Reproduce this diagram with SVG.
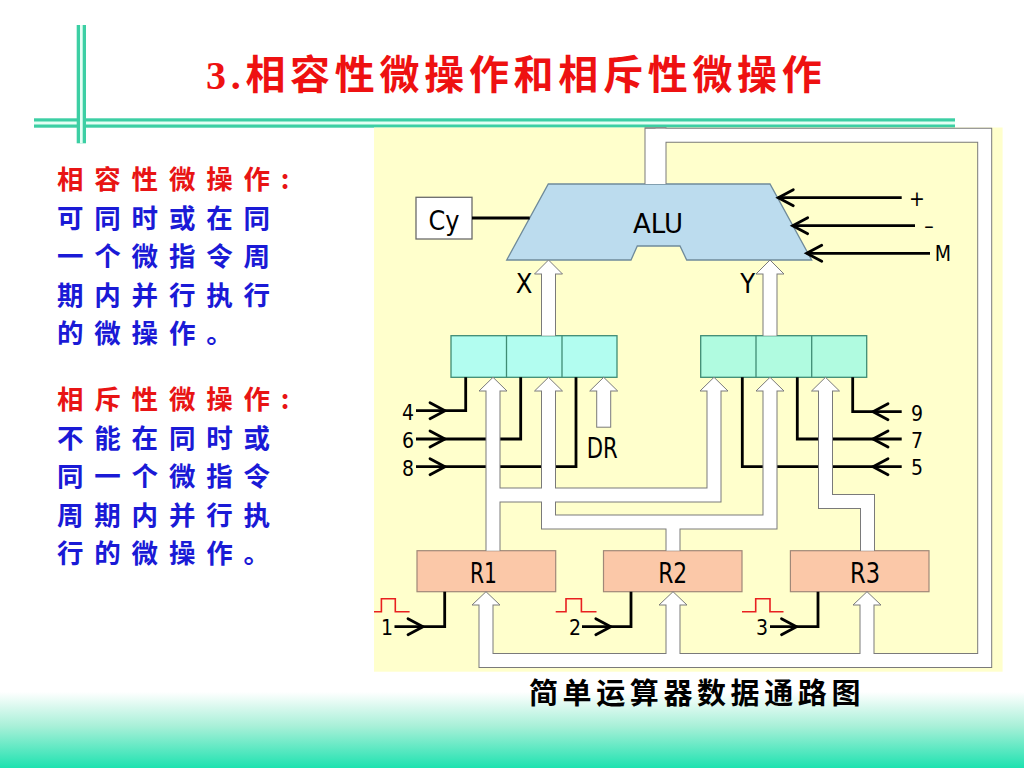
<svg xmlns="http://www.w3.org/2000/svg" width="1024" height="768" viewBox="0 0 1024 768">
<defs>
<linearGradient id="bottomGrad" x1="0" y1="0" x2="0" y2="1">
<stop offset="0" stop-color="#ffffff"/>
<stop offset="0.45" stop-color="#a8f0d8"/>
<stop offset="1" stop-color="#1ee2b0"/>
</linearGradient>
<style>
.title{font-family:"Liberation Serif","Noto Sans CJK SC",serif;font-weight:bold;font-size:40px;fill:#ee1111;letter-spacing:4.7px}
.cjk{font-family:"Noto Sans CJK SC",sans-serif;font-weight:bold;font-size:26.5px;letter-spacing:10.8px}
.red{fill:#e81414}
.blue{fill:#1a1ad6}
.cap{font-family:"Noto Sans CJK SC",sans-serif;font-weight:bold;font-size:29px;letter-spacing:4.6px;fill:#000}
.lbl{font-family:"DejaVu Sans Condensed","Liberation Sans Narrow","Liberation Sans",sans-serif;fill:#000;text-anchor:middle}
.ctl{fill:none;stroke:#000;stroke-width:2.8;stroke-linejoin:miter}
.ah{fill:none;stroke:#000;stroke-width:2.8;stroke-linejoin:miter;stroke-linecap:round}
.busO{fill:none;stroke:#7a7a7a;stroke-width:15;stroke-linejoin:miter}
.busI{fill:none;stroke:#ffffff;stroke-width:13;stroke-linejoin:miter}
.head{fill:#ffffff;stroke:#7a7a7a;stroke-width:1}
.pulse{fill:none;stroke:#e82020;stroke-width:1.6}
.regL{fill:#b2fdf0;stroke:#3f8c74;stroke-width:1.3}
.regR{fill:#b0fbe0;stroke:#3f8c74;stroke-width:1.3}
.rbox{fill:#fbc8a8;stroke:#a08878;stroke-width:1.2}
.deco{fill:#3ccfa4}
.decoc{fill:#e4fff4}
</style>
</defs>
<rect x="0" y="0" width="1024" height="768" fill="#ffffff"/>
<rect x="0" y="692" width="1024" height="76" fill="url(#bottomGrad)"/>

<g id="decoration">
<rect class="deco" x="34" y="118.3" width="921" height="9.4"/>
<rect class="decoc" x="34" y="121.5" width="921" height="3"/>
<rect class="deco" x="76.7" y="25" width="9.3" height="118.3"/>
<rect class="decoc" x="80" y="25" width="2.7" height="118.3"/>
</g>

<g id="title">
<text class="title" x="206" y="89">3.相容性微操作和相斥性微操作</text>
</g>

<g id="left-text">
<text class="cjk red" x="57" y="189">相容性微操作:</text>
<text class="cjk blue" x="57" y="227.5">可同时或在同</text>
<text class="cjk blue" x="57" y="266">一个微指令周</text>
<text class="cjk blue" x="57" y="304.5">期内并行执行</text>
<text class="cjk blue" x="57" y="343">的微操作。</text>
<text class="cjk red" x="57" y="409">相斥性微操作:</text>
<text class="cjk blue" x="57" y="447.5">不能在同时或</text>
<text class="cjk blue" x="57" y="486">同一个微指令</text>
<text class="cjk blue" x="57" y="524.5">周期内并行执</text>
<text class="cjk blue" x="57" y="563">行的微操作。</text>
</g>

<g id="diagram-bg">
<rect x="374" y="127.5" width="628.6" height="544.2" fill="#ffffcc"/>
</g>

<g id="node-cy">
<rect x="416" y="197.3" width="56" height="41.7" fill="#ffffff" stroke="#6a6a6a" stroke-width="1.3"/>
<text class="lbl" x="444" y="230" font-size="27" textLength="31" lengthAdjust="spacingAndGlyphs">Cy</text>
</g>

<g id="node-alu">
<polygon points="548.3,184 770,184 811.7,260 686.7,260 680,246 637.3,246 631,260 506.7,260" fill="#bcdcee" stroke="#6f8a9a" stroke-width="1.3"/>
<text class="lbl" x="658" y="233.3" font-size="26" textLength="50" lengthAdjust="spacingAndGlyphs">ALU</text>
</g>

<g id="node-reg-x">
<rect class="regL" x="451" y="335.7" width="166" height="41.6"/>
<line x1="506.5" y1="335.7" x2="506.5" y2="377.3" stroke="#3f8c74" stroke-width="1.3"/>
<line x1="562" y1="335.7" x2="562" y2="377.3" stroke="#3f8c74" stroke-width="1.3"/>
</g>

<g id="node-reg-y">
<rect class="regR" x="700.7" y="335.7" width="166" height="41.6"/>
<line x1="756" y1="335.7" x2="756" y2="377.3" stroke="#3f8c74" stroke-width="1.3"/>
<line x1="811.7" y1="335.7" x2="811.7" y2="377.3" stroke="#3f8c74" stroke-width="1.3"/>
</g>

<g id="node-r1">
<rect class="rbox" x="417" y="550.7" width="138.7" height="41"/>
<text class="lbl" x="483.5" y="583.3" font-size="28" textLength="27" lengthAdjust="spacingAndGlyphs">R1</text>
</g>
<g id="node-r2">
<rect class="rbox" x="603.5" y="550.7" width="138.5" height="41"/>
<text class="lbl" x="672.7" y="583.3" font-size="28" textLength="29" lengthAdjust="spacingAndGlyphs">R2</text>
</g>
<g id="node-r3">
<rect class="rbox" x="790.4" y="550.7" width="138.6" height="41"/>
<text class="lbl" x="865" y="583.3" font-size="28" textLength="30" lengthAdjust="spacingAndGlyphs">R3</text>
</g>

<g id="connectors">
<path class="ctl" d="M472,218 H529.7"/>
<path class="ctl" d="M778.3,197.7 H901.7"/>
<path class="ctl" d="M792.7,225.7 H915"/>
<path class="ctl" d="M806.7,253.3 H930"/>
<path class="ctl" d="M465.7,377.3 V410.7 H416"/>
<path class="ctl" d="M520.7,377.3 V439 H416"/>
<path class="ctl" d="M576,377.3 V466.7 H416"/>
<path class="ctl" d="M742.3,377.3 V466.7 H901.7"/>
<path class="ctl" d="M797.3,377.3 V439 H901.7"/>
<path class="ctl" d="M852.7,377.3 V411.7 H901.7"/>
<path class="ctl" d="M444.7,591.7 V626.7 H394.5"/>
<path class="ctl" d="M631,591.7 V626.7 H582"/>
<path class="ctl" d="M818,591.7 V626.7 H770"/>
<path class="ah" d="M793.3,189.7 L778.3,197.7 L793.3,205.7"/>
<path class="ah" d="M807.7,217.7 L792.7,225.7 L807.7,233.7"/>
<path class="ah" d="M821.7,245.3 L806.7,253.3 L821.7,261.3"/>
<path class="ah" d="M430,402.7 L445,410.7 L430,418.7"/>
<path class="ah" d="M430,431 L445,439 L430,447"/>
<path class="ah" d="M430,458.7 L445,466.7 L430,474.7"/>
<path class="ah" d="M888,403.7 L873,411.7 L888,419.7"/>
<path class="ah" d="M888,431 L873,439 L888,447"/>
<path class="ah" d="M888,458.7 L873,466.7 L888,474.7"/>
<path class="ah" d="M408,618.7 L423,626.7 L408,634.7"/>
<path class="ah" d="M595.8,618.7 L610.8,626.7 L595.8,634.7"/>
<path class="ah" d="M781.5,618.7 L796.5,626.7 L781.5,634.7"/>
<path class="pulse" d="M374,611.7 H381.4 V598.7 H395.3 V611.7 H409.6"/>
<path class="pulse" d="M555.7,611.7 H566 V598.7 H581.4 V611.7 H596.5"/>
<path class="pulse" d="M742,611.7 H755.7 V598.7 H770 V611.7 H783.5"/>

<g>
<path class="busO" d="M548.5,335.7 V274"/>
<path class="busO" d="M770,335.7 V274"/>
<path class="busO" d="M493,550.7 V391"/>
<path class="busO" d="M493,495 H714 V391"/>
<path class="busO" d="M548.5,391 V522 H770 V391"/>
<path class="busO" d="M673,522 V550.7"/>
<path class="busO" d="M825.5,391 V501.5 H867.5 V550.7"/>
<path class="busO" d="M603.7,391 V427.7"/>
<path class="busO" d="M655.5,135.3 H984.7 V660.5 H486 V605"/>
<path class="busO" d="M673,660.5 V605"/>
<path class="busO" d="M867,660.5 V605"/>
<rect x="644.5" y="127.3" width="22" height="56.7" fill="#7a7a7a"/>
</g>
<g>
<polygon class="head" points="534.5,274 548.5,260 562.5,274"/>
<polygon class="head" points="756,274 770,260 784,274"/>
<polygon class="head" points="479,391 493,377.3 507,391"/>
<polygon class="head" points="534.5,391 548.5,377.3 562.5,391"/>
<polygon class="head" points="589.7,391 603.7,377.3 617.7,391"/>
<polygon class="head" points="700,391 714,377.3 728,391"/>
<polygon class="head" points="756,391 770,377.3 784,391"/>
<polygon class="head" points="811.5,391 825.5,377.3 839.5,391"/>
<polygon class="head" points="472,605 486,591.7 500,605"/>
<polygon class="head" points="659,605 673,591.7 687,605"/>
<polygon class="head" points="853,605 867,591.7 881,605"/>
</g>
<g>
<path class="busI" d="M548.5,335.7 V273"/>
<path class="busI" d="M770,335.7 V273"/>
<path class="busI" d="M493,550.7 V390"/>
<path class="busI" d="M493,495 H714 V390"/>
<path class="busI" d="M548.5,390 V522 H770 V390"/>
<path class="busI" d="M673,522 V550.7"/>
<path class="busI" d="M825.5,390 V501.5 H867.5 V550.7"/>
<path class="busI" d="M603.7,390 V426.7"/>
<path class="busI" d="M655.5,135.3 H984.7 V660.5 H486 V604"/>
<path class="busI" d="M673,660.5 V604"/>
<path class="busI" d="M867,660.5 V604"/>
<rect x="645.5" y="128.8" width="20" height="55.2" fill="#ffffff"/>
</g>
</g>

<g id="labels">
<text class="lbl" x="524" y="293" font-size="27">X</text>
<text class="lbl" x="747.6" y="293" font-size="27">Y</text>
<text class="lbl" x="602.3" y="458" font-size="29" textLength="31" lengthAdjust="spacingAndGlyphs">DR</text>
<text class="lbl" x="917" y="205.5" font-size="21">+</text>
<text class="lbl" x="929" y="233" font-size="21">–</text>
<text class="lbl" x="943" y="261" font-size="21">M</text>
<text class="lbl" x="408" y="420" font-size="21">4</text>
<text class="lbl" x="408" y="448" font-size="21">6</text>
<text class="lbl" x="408" y="476" font-size="21">8</text>
<text class="lbl" x="917" y="421" font-size="21">9</text>
<text class="lbl" x="917" y="448" font-size="21">7</text>
<text class="lbl" x="917" y="475" font-size="21">5</text>
<text class="lbl" x="387" y="635" font-size="21">1</text>
<text class="lbl" x="575" y="635" font-size="21">2</text>
<text class="lbl" x="762" y="635" font-size="21">3</text>
</g>

<g id="caption">
<text class="cap" x="529" y="704">简单运算器数据通路图</text>
</g>
</svg>
